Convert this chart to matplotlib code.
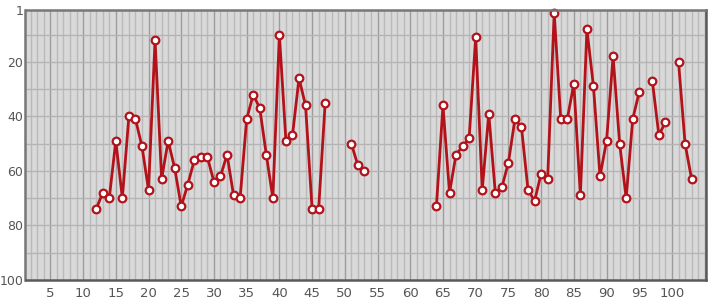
import numpy as np
from matplotlib import pyplot as plt

# position on the x axis and the rank at that position (None = no value)
positions = list(range(12, 104))
ranks = [74, 68, 70, 49, 70, 40, 41, 51, 67, 12,
         63, 49, 59, 73, 65, 56, 55, 55, 64, 62,
         54, 69, 70, 41, 32, 37, 54, 70, 10, 49,
         47, 26, 36, 74, 74, 35, None, None, None, 50,
         58, 60, None, None, None, None, None, None, None, None,
         None, None, 73, 36, 68, 54, 51, 48, 11, 67,
         39, 68, 66, 57, 41, 44, 67, 71, 61, 63,
         2, 41, 41, 28, 69, 8, 29, 62, 49, 18,
         50, 70, 41, 31, None, 27, 47, 42, None, 20,
         50, 63]
xticks = list(range(5, 101, 5))
yticks = [1, 20, 40, 60, 80, 100]


def main():
    fig = plt.figure(figsize=(7.15, 3.0), dpi=100)
    ax = fig.add_axes([25.5 / 715, 20 / 300, 680.5 / 715, 270 / 300])
    ax.set_facecolor("#d9d9d9")

    y = np.array([np.nan if r is None else r for r in ranks], dtype=float)

    # grid: every unit on x (darker every 5), every 10 on y
    for v in range(2, 106):
        c = "#9c9c9c" if v % 5 == 0 else "#bababa"
        ax.axvline(v, color=c, linewidth=1.0, zorder=1)
    for v in range(10, 100, 10):
        ax.axhline(v, color="#b4b4b4", linewidth=1.0, zorder=1)

    ax.plot(positions, y, color="#b3121a", linewidth=2,
            marker="o", markersize=5.5, markerfacecolor="white",
            markeredgecolor="#b3121a", markeredgewidth=1.6, zorder=3,
            clip_on=False)

    ax.set_xlim(1.2, 105.2)
    ax.set_ylim(100, 1)
    ax.set_xticks(xticks)
    ax.set_yticks(yticks)
    ax.tick_params(length=0, labelcolor="#555555")
    ax.tick_params(axis="x", pad=5, labelsize=9.5)
    ax.tick_params(axis="y", pad=1.5, labelsize=9)

    for s in ax.spines.values():
        s.set_color("#777777")
        s.set_linewidth(1.8)
        s.set_zorder(4)
    ax.spines["bottom"].set_color("#5a5a5a")
    ax.spines["right"].set_color("#5a5a5a")

    plt.savefig("out.png", dpi=100)


main()
